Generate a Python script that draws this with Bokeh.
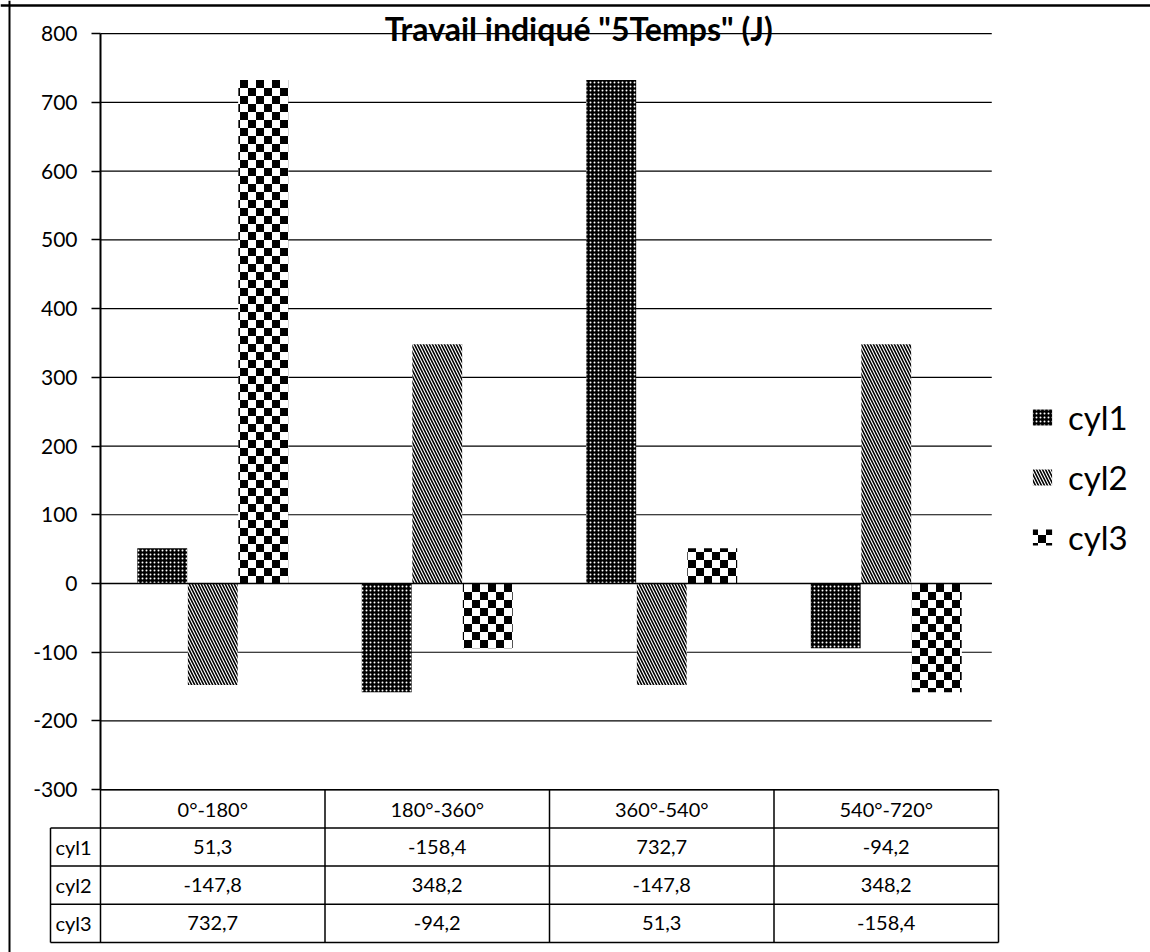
import numpy as np
from bokeh.plotting import figure
from bokeh.models import (Range1d, LinearAxis, FixedTicker, Legend, LegendItem,
                          Label, Span, CanvasTexture, ColumnDataSource)
from bokeh.core.properties import value
from bokeh.embed import file_html
from bokeh.resources import INLINE

# ---------------- data ----------------
categories = ["0°-180°", "180°-360°", "360°-540°", "540°-720°"]
series_names = ["cyl1", "cyl2", "cyl3"]
cyl1 = [51.3, -158.4, 732.7, -94.2]
cyl2 = [-147.8, 348.2, -147.8, 348.2]
cyl3 = [732.7, -94.2, 51.3, -158.4]
y_ticks = [-300, -200, -100, 0, 100, 200, 300, 400, 500, 600, 700, 800]
title_text = 'Travail indiqué "5Temps" (J)'

# ---------------- layout constants (pixels) ----------------
W, H = 1150, 952
X0_PX = 100         # screen x of category axis origin
UX = 224.5          # px per category
Y0_PX = 583         # screen y of value 0 (from top)
UY = 0.68727        # px per unit
FONT = "Lato"

x_range = Range1d(-X0_PX / UX, (W - X0_PX) / UX)
y_range = Range1d(-(H - Y0_PX) / UY, Y0_PX / UY)

p = figure(width=W, height=H, x_range=x_range, y_range=y_range,
           output_backend="svg", toolbar_location=None,
           x_axis_location=None, y_axis_location=None, min_border=0,
           outline_line_color=None)
p.grid.visible = False
p.background_fill_color = "white"
p.border_fill_color = "white"

# y axis at category origin
yaxis = LinearAxis(fixed_location=0, bounds=(min(y_ticks), max(y_ticks)),
                   ticker=FixedTicker(ticks=y_ticks))
yaxis.axis_line_width = 2
yaxis.axis_line_color = "black"
yaxis.major_tick_out = 9
yaxis.major_tick_in = 0
yaxis.major_tick_line_color = "black"
yaxis.major_tick_line_width = 1.5
yaxis.minor_tick_line_color = None
yaxis.major_label_standoff = 14
yaxis.major_label_text_font = FONT
yaxis.major_label_text_font_size = "21px"
yaxis.major_label_text_color = "black"
yaxis.major_label_overrides = {t: str(t) for t in y_ticks}
p.add_layout(yaxis, "left")

# gridlines
n_cat = len(categories)
grid_end = n_cat - 0.03
p.segment(x0=[0] * len(y_ticks), x1=[grid_end] * len(y_ticks),
          y0=y_ticks, y1=y_ticks, line_color="black", line_width=1.2)

# bars
offsets = [-0.225, 0.0, 0.225]
bar_w = 0.222
idx = np.arange(n_cat)

checker = CanvasTexture(code="""
const n = 16;
ctx.canvas.width = n;
ctx.canvas.height = n;
const s = n / 2;
ctx.fillStyle = "#ffffff";
ctx.fillRect(0, 0, n, n);
ctx.fillStyle = "#000000";
ctx.fillRect(0, 0, s, s);
ctx.fillRect(s, s, s, s);
""", repetition="repeat")

styles = [
    dict(fill_color="black", hatch_pattern=value("dot"), hatch_color="white",
         hatch_scale=4, hatch_weight=1),
    dict(fill_color="white", hatch_pattern=value("left_diagonal_line"), hatch_color="black",
         hatch_scale=6, hatch_weight=1.6),
    dict(fill_color="white", hatch_pattern=value("checker"), hatch_extra={"checker": checker},
         hatch_color="black", hatch_scale=16, hatch_weight=1),
]

renderers = []
for k, vals in enumerate([cyl1, cyl2, cyl3]):
    src = ColumnDataSource(dict(x=idx + 0.5 + offsets[k], top=vals))
    r = p.vbar(x="x", top="top", bottom=0, width=bar_w, source=src,
               line_color=None, **styles[k])
    renderers.append(r)

# zero line over bars
p.segment(x0=[0], x1=[grid_end], y0=[0], y1=[0], line_color="black", line_width=1.5)

# ---------------- data table ----------------
row_h = 55.6
t_top = min(y_ticks)
lbl_left = -50 / UX
n_rows = len(series_names) + 1
row_lines_y = [t_top - row_h * k for k in range(n_rows + 1)]
t_bottom = row_lines_y[-1]

hx0 = [0] + [lbl_left] * n_rows
hx1 = [n_cat] * (n_rows + 1)
p.segment(x0=hx0, x1=hx1, y0=row_lines_y, y1=row_lines_y,
          line_color="black", line_width=1.5)
vx = list(range(n_cat + 1))
p.segment(x0=vx, x1=vx, y0=[t_top] * len(vx), y1=[t_bottom] * len(vx),
          line_color="black", line_width=1.5)
p.segment(x0=[lbl_left], x1=[lbl_left], y0=[t_top - row_h], y1=[t_bottom],
          line_color="black", line_width=1.5)

TFS = "20px"
# header
p.text(x=idx + 0.5, y=[t_top - row_h / 2] * n_cat, text=categories,
       text_align="center", text_baseline="middle", text_font=value(FONT),
       text_font_size=TFS, text_color="black")


def fmt(v):
    return f"{v:.1f}".replace(".", ",")


for r_i, (name, vals) in enumerate(zip(series_names, [cyl1, cyl2, cyl3])):
    yy = t_top - row_h * (r_i + 1.5)
    p.text(x=idx + 0.5, y=[yy] * n_cat, text=[fmt(v) for v in vals],
           text_align="center", text_baseline="middle", text_font=value(FONT),
           text_font_size=TFS, text_color="black")
    p.text(x=[lbl_left], y=[yy], text=[name], x_offset=5,
           text_align="left", text_baseline="middle", text_font=value(FONT),
           text_font_size=TFS, text_color="black")

# title
p.add_layout(Label(x=2.13, y=max(y_ticks), y_offset=5, text=title_text,
                   text_align="center", text_baseline="middle",
                   text_font=FONT, text_font_size="32px", text_font_style="bold",
                   text_color="black"))

# legend
legend = Legend(items=[LegendItem(label=n, renderers=[r]) for n, r in zip(series_names, renderers)],
                location=(1030, 395), orientation="vertical", padding=5, margin=0,
                spacing=20, glyph_width=24, glyph_height=20, label_height=30,
                label_standoff=14, label_text_font=FONT, label_text_font_size="33px",
                label_text_color="black", border_line_color=None,
                background_fill_alpha=0)
p.add_layout(legend)

# outer border (left and top)
p.add_layout(Span(location=(9 - X0_PX) / UX, dimension="height", line_color="black", line_width=2))
p.add_layout(Span(location=(Y0_PX - 5) / UY, dimension="width", line_color="black", line_width=2.5))

open("out.html", "w").write(file_html(p, INLINE))
